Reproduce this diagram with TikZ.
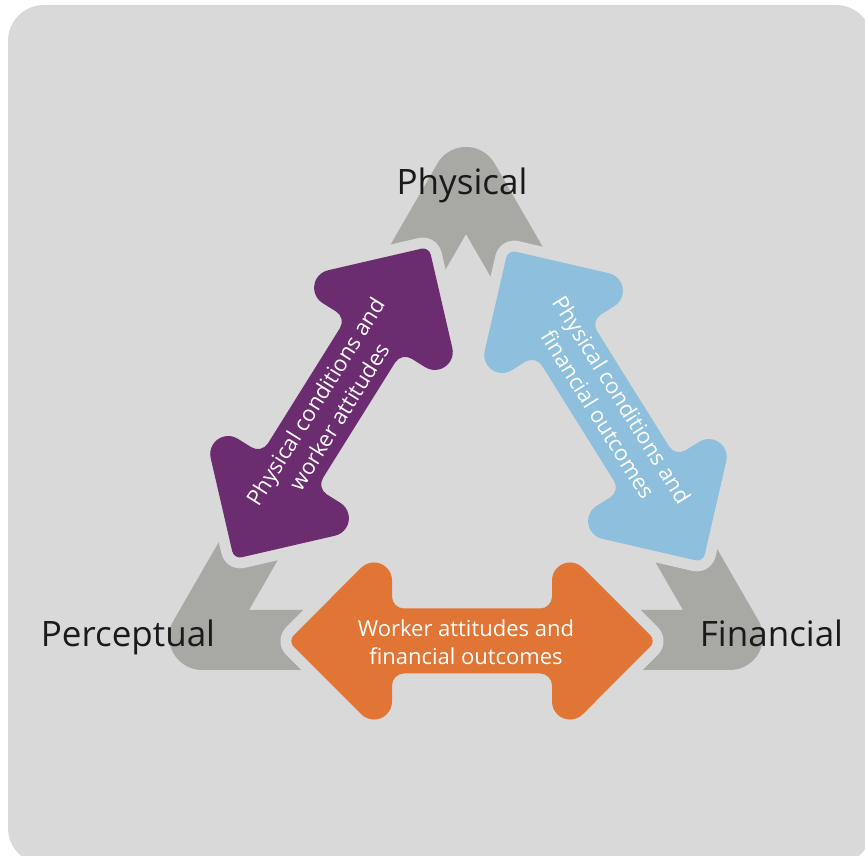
\documentclass[tikz,border=0pt]{standalone}
\usepackage{fontspec}
\setmainfont{Open Sans}

\definecolor{panel}{HTML}{D9D9D9}
\definecolor{cornergray}{HTML}{A8A9A4}
\definecolor{plum}{HTML}{6C2D70}
\definecolor{skyblue}{HTML}{8EC0DE}
\definecolor{tangerine}{HTML}{E07535}
\definecolor{inkc}{HTML}{1A1A1A}

% Double-headed block arrow, centred on the origin, axis along x
\newcommand{\twowayarrow}{(0,32.5) -- (68,32.5) arc[start angle=-90,end angle=0,radius=12]
  -- (80,60.54) arc[start angle=180,end angle=45,radius=18]
  -- (178.34,5.66) arc[start angle=45,end angle=-45,radius=8]
  -- (110.73,-73.27) arc[start angle=-45,end angle=-180,radius=18]
  -- (80,-44.5) arc[start angle=0,end angle=90,radius=12]
  -- (-68,-32.5) arc[start angle=90,end angle=180,radius=12]
  -- (-80,-60.54) arc[start angle=0,end angle=-135,radius=18]
  -- (-178.34,-5.66) arc[start angle=-135,end angle=-225,radius=8]
  -- (-110.73,73.27) arc[start angle=135,end angle=0,radius=18]
  -- (-80,44.5) arc[start angle=180,end angle=270,radius=12] -- cycle}

\tikzset{
  chevron/.style={fill=cornergray},
  gapped/.style={preaction={draw=panel,line width=22pt,line join=round}},
  arrowtext/.style={text=white,align=center,inner sep=0pt,
    font=\fontsize{22}{28}\selectfont},
  cornerlabel/.style={text=inkc,inner sep=0pt,anchor=base,
    font=\fontsize{35}{42}\selectfont}
}

\begin{document}
\begin{tikzpicture}[x=1pt,y=1pt]
\useasboundingbox (0,0) rectangle (865,856);
\fill[white] (0,0) rectangle (865,856);
\begin{scope}
  \clip (0,0) rectangle (865,856);
  \fill[panel,rounded corners=36pt] (8,-8) rectangle (872,851);
\end{scope}

% corner chevrons of the triangle
\fill[chevron] (366,568.8) -- (437.42,692.5) arc[start angle=150,end angle=30,radius=33]
  -- (566,568.8) -- (514,538.8) -- (466,621.9) -- (418,538.8) -- cycle;
\fill[chevron] (345,186) -- (202.16,186) arc[start angle=270,end angle=150,radius=33]
  -- (245,359.2) -- (297,329.2) -- (249,246) -- (345,246) -- cycle;
\fill[chevron] (587,186) -- (729.84,186) arc[start angle=-90,end angle=30,radius=33]
  -- (687,359.2) -- (635,329.2) -- (683,246) -- (587,246) -- cycle;

% two-way arrows along the sides
\begin{scope}[shift={(331.5,453)},rotate=58]
  \fill[plum,gapped] \twowayarrow;
\end{scope}
\begin{scope}[shift={(605.5,450)},rotate=-58]
  \fill[skyblue,gapped] \twowayarrow;
\end{scope}
\begin{scope}[shift={(472,215)}]
  \fill[tangerine,gapped] \twowayarrow;
\end{scope}

\node[arrowtext,rotate=58] (pwtext) at (327,447) {Physical conditions and\\worker attitudes};
\node[arrowtext,rotate=-58] (pftext) at (610,449) {Physical conditions and\\financial outcomes};
\node[arrowtext] (wftext) at (466,214) {Worker attitudes and\\financial outcomes};

% corner labels
\node[cornerlabel] (physical) at (462,661) {Physical};
\node[cornerlabel] (perceptual) at (128,209.3) {Perceptual};
\node[cornerlabel] (financial) at (771.5,209.3) {Financial};
\end{tikzpicture}
\end{document}
